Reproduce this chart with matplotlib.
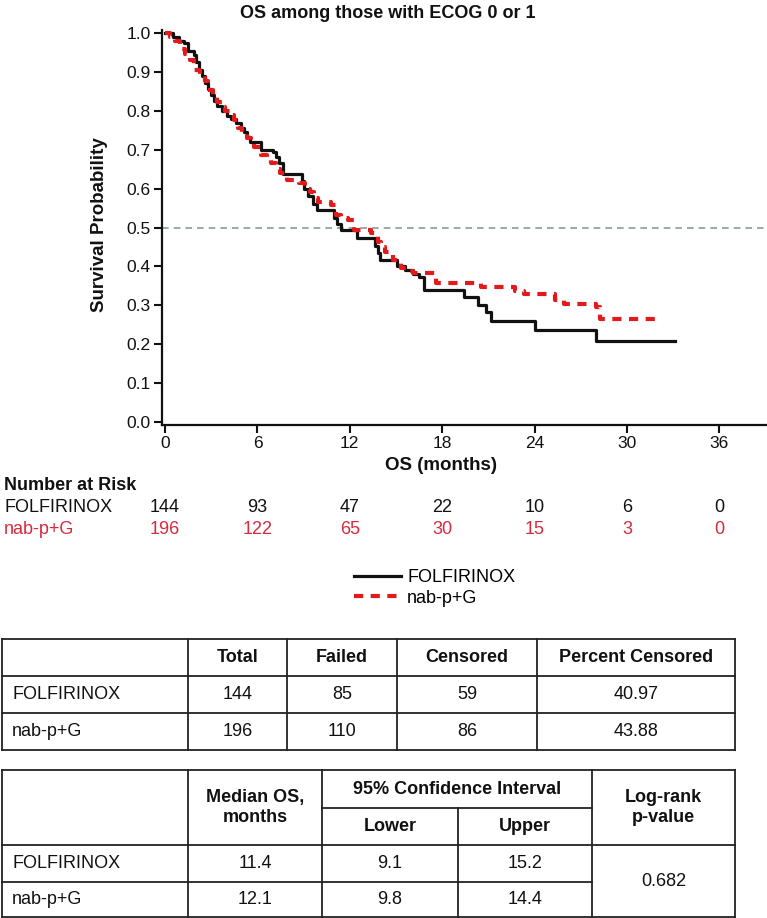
import matplotlib
matplotlib.use("Agg")
import matplotlib.pyplot as plt
from matplotlib import font_manager
from matplotlib.transforms import blended_transform_factory

# --- data ---
folf_t = [0, 0.5, 0.9, 1.25, 1.5, 1.85, 2.0, 2.2, 2.4, 2.6, 2.8, 3.0, 3.2, 3.4, 3.7, 4.0,
          4.3, 4.6, 4.9, 5.1, 5.3, 5.5, 6.25, 7.0, 7.2, 7.4, 7.65, 8.9, 9.05, 9.3, 9.6, 9.85,
          10.95, 11.2, 11.45, 12.45, 13.65, 13.8, 13.95, 15.05, 15.6, 16.1, 16.5, 16.8,
          19.4, 20.3, 20.85, 21.2, 24.0, 28.0, 33.1]
folf_s = [1.0, 0.99, 0.98, 0.973, 0.952, 0.943, 0.925, 0.905, 0.89, 0.872, 0.855, 0.84,
          0.826, 0.812, 0.80, 0.787, 0.778, 0.767, 0.755, 0.745, 0.733, 0.72, 0.70, 0.695,
          0.68, 0.665, 0.638, 0.62, 0.60, 0.58, 0.56, 0.545, 0.525, 0.51, 0.494, 0.473,
          0.452, 0.435, 0.417, 0.40, 0.39, 0.38, 0.374, 0.340, 0.321, 0.302, 0.282, 0.261,
          0.237, 0.208, 0.208]

nab_t = [0, 0.3, 0.65, 1.0, 1.3, 1.6, 1.9, 2.3, 2.6, 2.8, 3.1, 3.4, 3.7, 3.9, 4.2, 4.45,
         4.75, 5.0, 5.3, 5.55, 5.75, 6.2, 6.6, 6.85, 7.2, 7.45, 7.9, 8.7, 9.1, 9.4, 9.7,
         9.95, 10.75, 11.1, 11.4, 11.9, 12.3, 13.35, 13.8, 14.0, 14.3, 14.8, 15.3, 15.7,
         16.1, 17.6, 20.5, 22.7, 23.3, 25.3, 25.9, 28.0, 28.25, 31.9]
nab_s = [1.0, 0.99, 0.98, 0.958, 0.945, 0.93, 0.905, 0.89, 0.875, 0.853, 0.838, 0.823,
         0.81, 0.80, 0.788, 0.776, 0.755, 0.742, 0.729, 0.718, 0.707, 0.685, 0.675, 0.665,
         0.65, 0.639, 0.622, 0.613, 0.60, 0.592, 0.575, 0.566, 0.558, 0.532, 0.525, 0.518,
         0.494, 0.485, 0.464, 0.45, 0.436, 0.417, 0.396, 0.389, 0.382, 0.358, 0.347, 0.338,
         0.329, 0.314, 0.303, 0.297, 0.266, 0.266]

groups = ["FOLFIRINOX", "nab-p+G"]
risk_months = [0, 6, 12, 18, 24, 30, 36]
risk_folf = [144, 93, 47, 22, 10, 6, 0]
risk_nab = [196, 122, 65, 30, 15, 3, 0]

tab1_cols = ["Total", "Failed", "Censored", "Percent Censored"]
tab1_total = [144, 196]
tab1_failed = [85, 110]
tab1_cens = [59, 86]
tab1_pct = ["40.97", "43.88"]

median_os = ["11.4", "12.1"]
ci_lower = ["9.1", "9.8"]
ci_upper = ["15.2", "14.4"]
logrank_p = "0.682"

# --- fonts ---
names = {f.name for f in font_manager.fontManager.ttflist}
REG = "Liberation Sans" if "Liberation Sans" in names else "DejaVu Sans"
plt.rcParams["font.family"] = REG

BLACK = "#111111"
RED = "#e31a1c"
RED_TXT = "#d62a3e"
W, H = 767, 918
FS = 13  # table / risk text size

fig = plt.figure(figsize=(W / 100, H / 100), dpi=100)

# overlay in pixel coordinates for text and table grid
ov = fig.add_axes([0, 0, 1, 1])
ov.set_xlim(0, W)
ov.set_ylim(H, 0)
ov.axis("off")

ax = fig.add_axes([162 / W, 1 - 425 / H, (W - 162) / W, (425 - 30) / H])
ax.patch.set_alpha(0)

l1, = ax.step(folf_t, folf_s, where="post", color=BLACK, lw=2.3)
l2, = ax.step(nab_t, nab_s, where="post", color=RED, lw=3.0, dashes=(2.2, 1.8))
ax.axhline(0.5, color="#8c9a9a", lw=1.2, dashes=(4, 3), zorder=0)

ax.set_xlim(-0.2, 39.1)
ax.set_ylim(-0.007, 1.007)
ax.set_xticks(risk_months)
ax.set_yticks([i / 10 for i in range(11)])
ax.set_yticklabels(["%.1f" % (i / 10) for i in range(11)])
ax.tick_params(direction="out", length=6, width=1.5, labelsize=12.5, colors=BLACK, pad=2)
for s in ["top", "right"]:
    ax.spines[s].set_visible(False)
for s in ["left", "bottom"]:
    ax.spines[s].set_linewidth(1.6)
    ax.spines[s].set_color(BLACK)

ov.text(388, 13, "OS among those with ECOG 0 or 1", ha="center", va="center",
        fontsize=13, fontweight="bold", color=BLACK)
ov.text(100, 225, "Survival Probability", rotation=90, ha="center", va="center",
        fontsize=13.5, fontweight="bold", color=BLACK)
ov.text(441, 466, "OS (months)", ha="center", va="center", fontsize=13.5,
        fontweight="bold", color=BLACK)

# number at risk
ov.text(4, 486, "Number at Risk", ha="left", va="center", fontsize=FS, fontweight="bold",
        color=BLACK)
tr = blended_transform_factory(ax.transData, ov.transData)
for label, vals, yy, col in [(groups[0], risk_folf, 508, BLACK), (groups[1], risk_nab, 530, RED_TXT)]:
    ov.text(4, yy, label, ha="left", va="center", fontsize=FS, color=col)
    for m, v in zip(risk_months, vals):
        ax.text(m, yy, str(v), transform=tr, ha="center", va="center", fontsize=FS,
                color=col)

# legend
fig.legend([l1, l2], groups, loc="upper left", bbox_to_anchor=(354 / W, 1 - 569 / H),
           frameon=False, handlelength=2.6, handletextpad=0.35, labelspacing=0.2,
           borderpad=0, borderaxespad=0, prop={"size": FS})

GRID = "#222222"


def hl(y, x0, x1):
    ov.plot([x0, x1], [y, y], color=GRID, lw=1.3, solid_capstyle="projecting")


def vl(x, y0, y1):
    ov.plot([x, x], [y0, y1], color=GRID, lw=1.3, solid_capstyle="projecting")


def cell(x, y, s, bold=False, ha="center"):
    ov.text(x, y, s, ha=ha, va="center", fontsize=FS,
            fontweight="bold" if bold else "normal", color=BLACK, linespacing=1.3)


# table 1
xs1 = [2, 188, 287, 397, 537, 735]
ys1 = [639, 676, 713, 750]
for y in ys1:
    hl(y, xs1[0], xs1[-1])
for x in xs1:
    vl(x, ys1[0], ys1[-1])
for i, c in enumerate(tab1_cols):
    cell((xs1[i + 1] + xs1[i + 2]) / 2, (ys1[0] + ys1[1]) / 2, c, bold=True)
for r in range(2):
    yc = (ys1[r + 1] + ys1[r + 2]) / 2
    cell(12, yc, groups[r], ha="left")
    for i, v in enumerate([tab1_total[r], tab1_failed[r], tab1_cens[r], tab1_pct[r]]):
        cell((xs1[i + 1] + xs1[i + 2]) / 2, yc, str(v))

# table 2
xs2 = [2, 188, 322, 458, 592, 735]
top2, mid2, hdr2, row2, bot2 = 770, 808, 845, 881.5, 917
hl(top2, xs2[0], xs2[-1])
hl(mid2, xs2[2], xs2[4])
hl(hdr2, xs2[0], xs2[-1])
hl(row2, xs2[0], xs2[4])
hl(bot2, xs2[0], xs2[-1])
for x in [xs2[0], xs2[1], xs2[2], xs2[4], xs2[5]]:
    vl(x, top2, bot2)
vl(xs2[3], mid2, bot2)
cell((xs2[1] + xs2[2]) / 2, (top2 + hdr2) / 2, "Median OS,\nmonths", bold=True)
cell((xs2[2] + xs2[4]) / 2, (top2 + mid2) / 2, "95% Confidence Interval", bold=True)
cell((xs2[2] + xs2[3]) / 2, (mid2 + hdr2) / 2, "Lower", bold=True)
cell((xs2[3] + xs2[4]) / 2, (mid2 + hdr2) / 2, "Upper", bold=True)
cell((xs2[4] + xs2[5]) / 2, (top2 + hdr2) / 2, "Log-rank\np-value", bold=True)
for r, (y0, y1) in enumerate([(hdr2, row2), (row2, bot2)]):
    yc = (y0 + y1) / 2
    cell(12, yc, groups[r], ha="left")
    for i, v in enumerate([median_os[r], ci_lower[r], ci_upper[r]]):
        cell((xs2[i + 1] + xs2[i + 2]) / 2, yc, v)
cell((xs2[4] + xs2[5]) / 2, (hdr2 + bot2) / 2, logrank_p)

fig.savefig("out.png", dpi=100)
